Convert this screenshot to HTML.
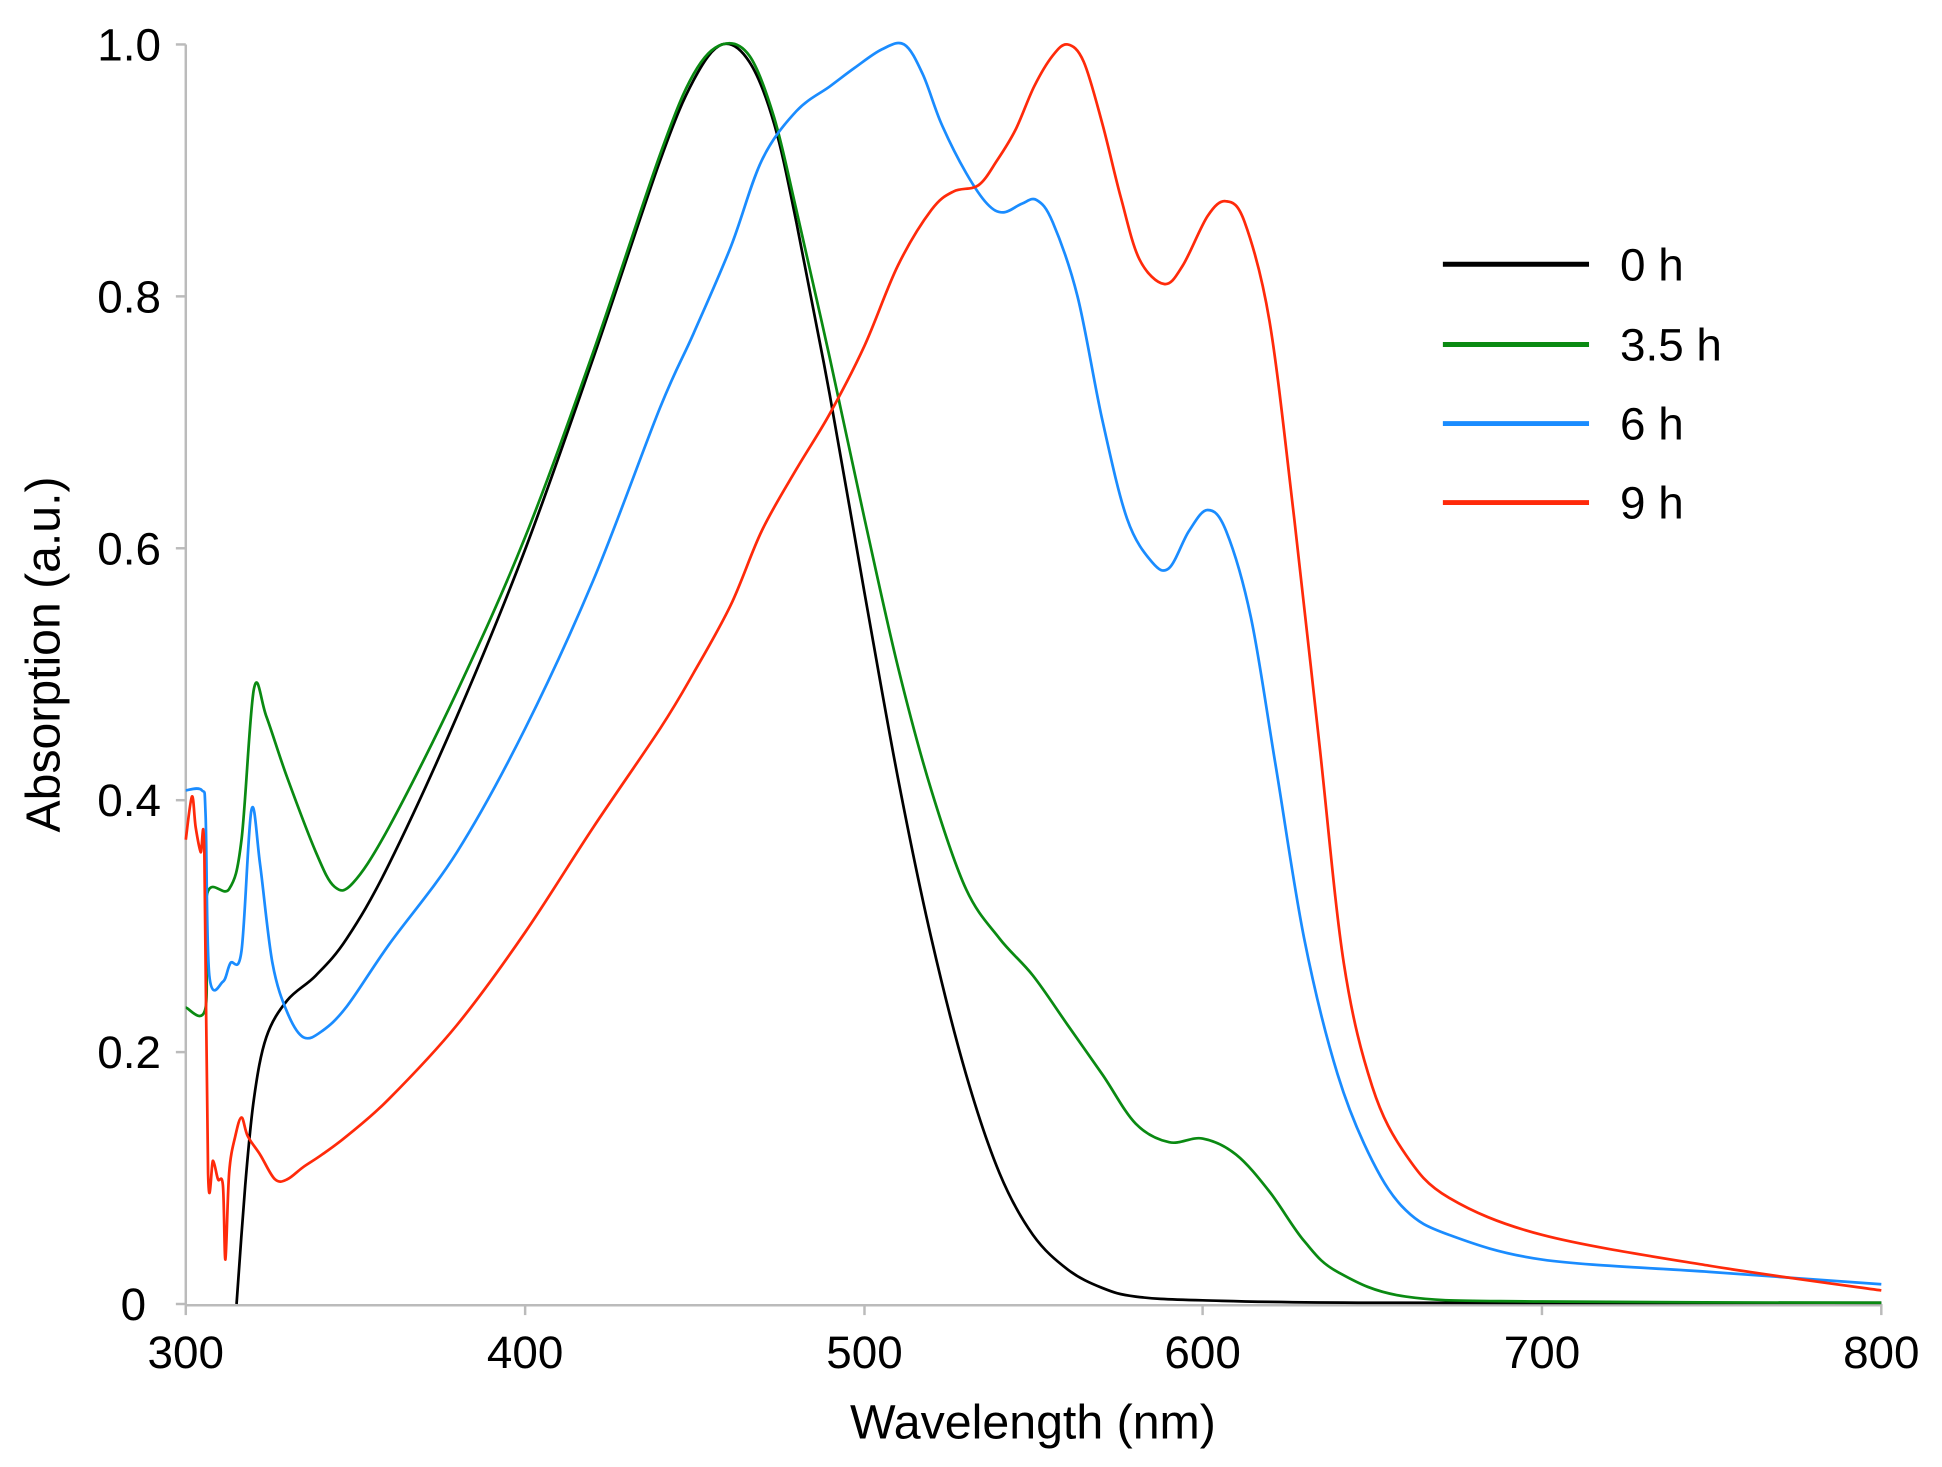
<!DOCTYPE html>
<html><head><style>
html,body{margin:0;padding:0;background:#fff;}
svg{display:block;}
text{font-family:"Liberation Sans",sans-serif;fill:#000;}
</style></head><body>
<svg id="s" width="1942" height="1467" viewBox="0 0 1568 1188" preserveAspectRatio="none">
<g stroke="#bbb" stroke-width="2" fill="none">
<line x1="150" y1="36" x2="150" y2="1057"/>
<line x1="150" y1="1057" x2="1520" y2="1057"/>
<line x1="142" y1="36" x2="150" y2="36"/><line x1="142" y1="240" x2="150" y2="240"/><line x1="142" y1="444" x2="150" y2="444"/><line x1="142" y1="648" x2="150" y2="648"/><line x1="142" y1="852" x2="150" y2="852"/><line x1="142" y1="1056" x2="150" y2="1056"/>
<line x1="150" y1="1057" x2="150" y2="1065"/><line x1="424" y1="1057" x2="424" y2="1065"/><line x1="698" y1="1057" x2="698" y2="1065"/><line x1="971" y1="1057" x2="971" y2="1065"/><line x1="1245" y1="1057" x2="1245" y2="1065"/><line x1="1519" y1="1057" x2="1519" y2="1065"/>
</g>
<g font-size="37" text-anchor="end">
<text x="130" y="49">1.0</text><text x="130" y="253">0.8</text><text x="130" y="457">0.6</text><text x="130" y="661">0.4</text><text x="130" y="865">0.2</text><text x="118" y="1069">0</text>
</g>
<g font-size="37" text-anchor="middle">
<text x="150" y="1108">300</text><text x="424" y="1108">400</text><text x="698" y="1108">500</text><text x="971" y="1108">600</text><text x="1245" y="1108">700</text><text x="1519" y="1108">800</text>
<text x="834" y="1165" font-size="39">Wavelength (nm)</text>
<text transform="translate(48,530) rotate(-90)" font-size="39">Absorption (a.u.)</text>
</g>
<g id="curves" fill="none" stroke-width="2.2" stroke-linejoin="round">
<polyline stroke="#000" points="191,1056 198,960 205,890 215,840 232,810 255,790 280,760 314,700 369,580 424,445 479,290 533,130 560,65 583,36 605,50 625,100 643,180 670,320 698,480 725,630 752,760 780,870 807,950 834,1000 862,1028 890,1043 917,1050 971,1053 1108,1055 1519,1055"/>
<polyline stroke="#0a8a12" points="150,816 166,816 167,725 185,720 195,680 205,558 215,580 232,630 255,690 270,718 285,715 314,670 369,560 424,435 479,285 533,125 560,60 583,36 605,45 625,95 643,170 670,290 698,420 725,540 752,640 780,720 807,760 834,790 862,830 890,870 917,910 944,925 971,922 998,935 1025,965 1053,1005 1080,1030 1135,1050 1245,1054 1519,1055"/>
<polyline stroke="#1a8cff" points="150,640 163,640 166,660 169,790 180,795 186,780 195,770 203,656 210,700 220,780 232,820 245,840 260,835 280,815 314,765 369,690 424,590 479,470 533,330 560,270 590,200 615,130 643,90 670,70 690,55 712,40 730,36 745,60 760,100 780,140 797,165 810,172 825,165 837,162 850,180 870,240 890,340 910,420 930,455 944,460 960,430 975,413 990,430 1010,500 1030,620 1053,760 1080,870 1108,940 1135,980 1170,1000 1245,1020 1380,1030 1519,1040"/>
<polyline stroke="#ff2a0a" points="150,680 155,645 158,670 162,690 165,690 168,950 172,940 176,955 180,960 182,1020 185,950 190,920 195,905 200,920 210,935 222,955 232,955 245,945 260,935 280,920 314,890 369,830 424,755 479,670 533,590 560,545 590,490 615,430 643,380 670,335 698,280 725,215 752,170 770,155 790,150 805,130 820,105 835,70 850,45 862,36 875,50 890,100 905,160 920,210 940,230 955,215 975,175 990,163 1005,180 1025,260 1045,420 1065,600 1085,780 1108,880 1135,935 1170,970 1245,1000 1380,1025 1519,1045"/>
</g>
<g stroke-width="4">
<line x1="1165" y1="214" x2="1283" y2="214" stroke="#000"/>
<line x1="1165" y1="279" x2="1283" y2="279" stroke="#0a8a12"/>
<line x1="1165" y1="343" x2="1283" y2="343" stroke="#1a8cff"/>
<line x1="1165" y1="407" x2="1283" y2="407" stroke="#ff2a0a"/>
</g>
<g font-size="37">
<text x="1308" y="227">0 h</text><text x="1308" y="292">3.5 h</text><text x="1308" y="356">6 h</text><text x="1308" y="420">9 h</text>
</g>
</svg>
<script>
document.querySelectorAll('#curves polyline').forEach(function(pl){
  var p=pl.getAttribute('points').trim().split(/\s+/).map(function(s){return s.split(',').map(Number);});
  var d='M'+p[0][0]+','+p[0][1];
  for(var i=0;i<p.length-1;i++){
    var p0=p[i-1]||p[i],p1=p[i],p2=p[i+1],p3=p[i+2]||p2;
    var c1x=p1[0]+(p2[0]-p0[0])/6,c1y=p1[1]+(p2[1]-p0[1])/6;
    var c2x=p2[0]-(p3[0]-p1[0])/6,c2y=p2[1]-(p3[1]-p1[1])/6;
    d+=' C'+c1x.toFixed(1)+','+c1y.toFixed(1)+' '+c2x.toFixed(1)+','+c2y.toFixed(1)+' '+p2[0]+','+p2[1];
  }
  var path=document.createElementNS('http://www.w3.org/2000/svg','path');
  path.setAttribute('d',d);path.setAttribute('stroke',pl.getAttribute('stroke'));
  pl.parentNode.replaceChild(path,pl);
});
</script>
</body></html>
